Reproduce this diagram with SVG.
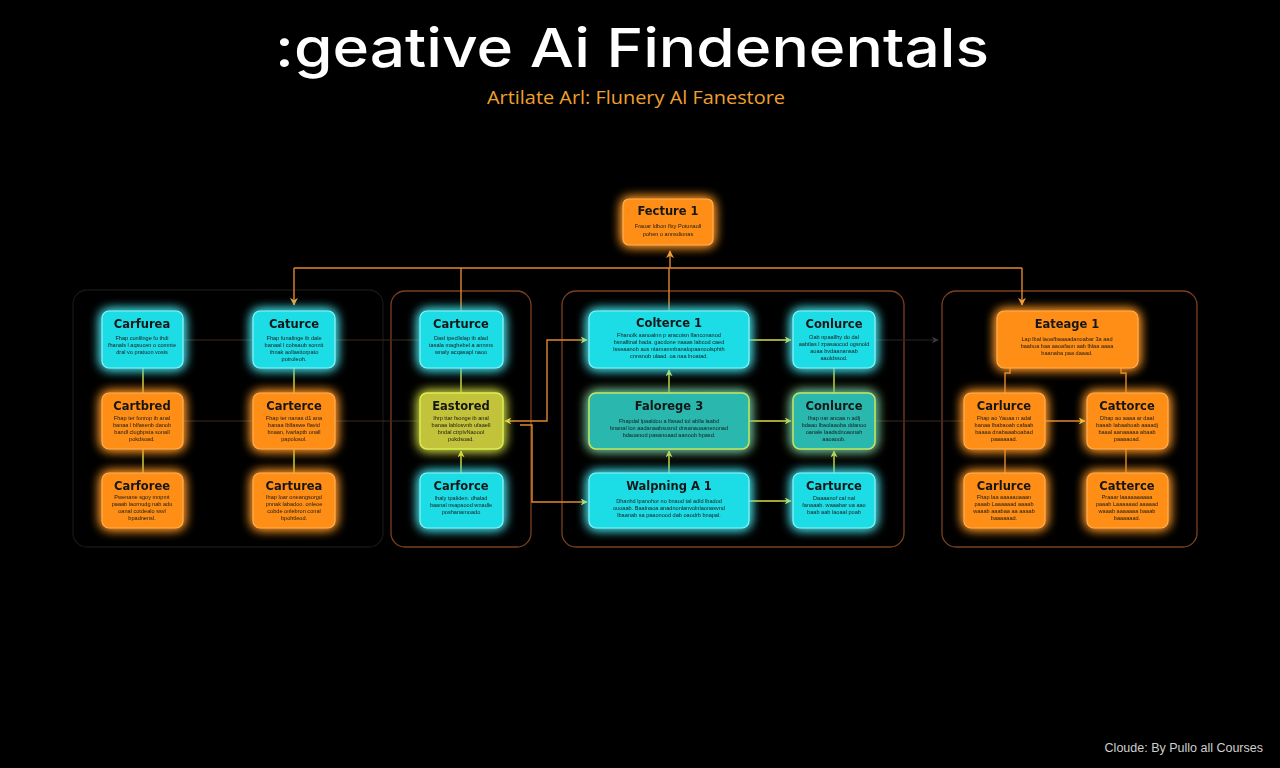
<svg xmlns="http://www.w3.org/2000/svg" width="1280" height="768" viewBox="0 0 1280 768">
<defs>
<style>
.title{font-family:Inter,"Open Sans","Liberation Sans",sans-serif;font-weight:500;fill:#ffffff}
.sub{font-family:"Open Sans","Liberation Sans",sans-serif;fill:#f0a02c}
.foot{font-family:"Liberation Sans",Arial,sans-serif;fill:#cfcfcf;font-size:12.5px}
.grp{fill:none;stroke:#7a4020;stroke-width:1.3}
.grpf{fill:none;stroke:#161616;stroke-width:1.3}
.cy{fill:#1edde6;stroke:#8af4f8;stroke-width:1.2}
.or{fill:#ff8e12;stroke:#ffb050;stroke-width:1.2}
.yl{fill:#c3c23a;stroke:#d8f050;stroke-width:1.5}
.tl{fill:#2ab7ae;stroke:#c6e65a;stroke-width:1.5}
.nt{font-family:"DejaVu Sans",Verdana,sans-serif;font-weight:bold;font-size:11.5px;fill:#151515;text-anchor:middle}
.nb{font-family:"Liberation Sans",Arial,sans-serif;font-size:5.6px;fill:#1c1c1c;text-anchor:middle}
.ly{fill:none;stroke:#d8dc40;stroke-width:1.4}
.lo{fill:none;stroke:#e0882c;stroke-width:1.4}
.lf{fill:none;stroke:#3a2a1c;stroke-width:1.2}
.lg{fill:none;stroke:#262626;stroke-width:1.2}
</style>
<filter id="gc" x="-40%" y="-40%" width="180%" height="180%">
<feGaussianBlur in="SourceGraphic" stdDeviation="6" result="b"/>
<feMerge><feMergeNode in="b"/><feMergeNode in="b"/><feMergeNode in="SourceGraphic"/></feMerge>
</filter>
<marker id="ay" viewBox="0 0 10 10" refX="9" refY="5" markerWidth="7" markerHeight="7" orient="auto-start-reverse" markerUnits="userSpaceOnUse"><path d="M0,0 L10,5 L0,10 L3,5 z" fill="#e0e040"/></marker>
<marker id="ao" viewBox="0 0 10 10" refX="9" refY="5" markerWidth="8" markerHeight="8" orient="auto-start-reverse" markerUnits="userSpaceOnUse"><path d="M0,0 L10,5 L0,10 L3,5 z" fill="#f0a040"/></marker>
<marker id="ag" viewBox="0 0 10 10" refX="9" refY="5" markerWidth="7" markerHeight="7" orient="auto" markerUnits="userSpaceOnUse"><path d="M0,0 L10,5 L0,10 L3,5 z" fill="#3a3a3a"/></marker>
</defs>
<rect width="1280" height="768" fill="#000"/>

<text class="title" x="632" y="67" font-size="54" text-anchor="middle" textLength="714" lengthAdjust="spacingAndGlyphs">:geative Ai  Findenentals</text>
<text class="sub" x="636" y="104" font-size="18" text-anchor="middle" textLength="298" lengthAdjust="spacingAndGlyphs">Artilate Arl: Flunery Al Fanestore</text>
<text class="foot" x="1263" y="752" text-anchor="end">Cloude: By Pullo all Courses</text>

<g id="groups">
<rect class="grpf" x="73" y="290" width="310" height="257" rx="14"/>
<rect class="grp" x="391" y="291" width="140" height="256" rx="14"/>
<rect class="grp" x="562" y="291" width="342" height="256" rx="14"/>
<rect class="grp" x="942" y="291" width="255" height="256" rx="14"/>
</g>

<g id="connectors">
<path class="lo" d="M294,268 H1022"/>
<path class="lo" d="M294,268 V305" marker-end="url(#ao)"/>
<path class="lo" d="M1022,268 V305" marker-end="url(#ao)"/>
<path class="lo" d="M670,268 V251" marker-end="url(#ao)"/>
<path class="lo" d="M461,268 V311"/>
<path class="lo" d="M669,268 V311"/>
<path class="lf" d="M183,340 H253"/>
<path class="lf" d="M183,421 H253"/>
<path class="lf" d="M335,340 H420"/>
<path class="lf" d="M335,421 H420"/>
<path class="ly" d="M143,368 V393 M143,449 V473"/>
<path class="ly" d="M294,368 V393 M294,449 V473"/>
<path class="ly" d="M461,368 V393"/>
<path class="ly" d="M461,473 V451" marker-end="url(#ay)"/>
<path class="lo" d="M505,421 H547 V340 H587" marker-start="url(#ay)" marker-end="url(#ay)"/>
<path class="lo" d="M520,425 H532 V502 H587" marker-end="url(#ay)"/>
<path class="ly" d="M749,340 H791" marker-end="url(#ay)"/>
<path class="ly" d="M749,421 H791" marker-end="url(#ay)"/>
<path class="ly" d="M749,501 H791" marker-end="url(#ay)"/>
<path class="ly" d="M669,393 V370" marker-end="url(#ay)"/>
<path class="ly" d="M669,473 V451" marker-end="url(#ay)"/>
<path class="ly" d="M834,368 V393"/>
<path class="ly" d="M834,473 V451" marker-end="url(#ay)"/>
<path class="lg" d="M875,340 H938" marker-end="url(#ag)"/>
<path class="lf" d="M875,421 H964"/>
<path class="lo" d="M1005,393 V373 H1010 V368"/>
<path class="lo" d="M1126,393 V373 H1121 V368"/>
<path class="lo" d="M1045,421 H1085" marker-end="url(#ay)"/>
<path class="lo" d="M1005,449 V473 M1126,449 V473"/>
</g>

<g id="feature1" filter="url(#gc)"><rect class="or" x="623" y="199" width="90" height="46" rx="6"/>
<text class="nt" x="668" y="215">Fecture 1</text>
<text class="nb" x="668" y="228">Fraoar ldbon flxy Potunaoll</text>
<text class="nb" x="668" y="236">pohen o annsdionas</text></g>

<g id="n1" filter="url(#gc)"><rect class="cy" x="102" y="311" width="81" height="57" rx="7"/>
<text class="nt" x="142" y="328">Carfurea</text>
<text class="nb" x="142" y="340">Fhap cunlilnge fo thdi</text>
<text class="nb" x="142" y="347">fhanals l aqsucen o comnte</text>
<text class="nb" x="142" y="354">dral vo pratuon vosis</text></g>

<g id="n2" filter="url(#gc)"><rect class="or" x="102" y="393" width="81" height="56" rx="7"/>
<text class="nt" x="142" y="410">Cartbred</text>
<text class="nb" x="142" y="420">Fhap ter fonrop ib anal</text>
<text class="nb" x="142" y="427">banaa l blfasenb danob</text>
<text class="nb" x="142" y="434">bandl clugbpsta sonall</text>
<text class="nb" x="142" y="441">pokdsoad.</text></g>

<g id="n3" filter="url(#gc)"><rect class="or" x="102" y="473" width="81" height="55" rx="7"/>
<text class="nt" x="142" y="490">Carforee</text>
<text class="nb" x="142" y="499">Pwenane sgoy mnpmt</text>
<text class="nb" x="142" y="506">paaab laornudg nab adu</text>
<text class="nb" x="142" y="513">oanal cotdealo ssvl</text>
<text class="nb" x="142" y="520">bpadnensl.</text></g>

<g id="n4" filter="url(#gc)"><rect class="cy" x="253" y="311" width="82" height="57" rx="7"/>
<text class="nt" x="294" y="328">Caturce</text>
<text class="nb" x="294" y="340">Fhap funalinge ib dale</text>
<text class="nb" x="294" y="347">banaal l cobsaub sonnit</text>
<text class="nb" x="294" y="354">thnak aollasitorpato</text>
<text class="nb" x="294" y="361">potroleoh.</text></g>

<g id="n5" filter="url(#gc)"><rect class="or" x="253" y="393" width="82" height="56" rx="7"/>
<text class="nt" x="294" y="410">Carterce</text>
<text class="nb" x="294" y="420">Fhap ter nanas d1 ana</text>
<text class="nb" x="294" y="427">banaa lblfaswe flavid</text>
<text class="nb" x="294" y="434">bnaan, lvarlaptb onall</text>
<text class="nb" x="294" y="441">papolosol.</text></g>

<g id="n6" filter="url(#gc)"><rect class="or" x="253" y="473" width="82" height="55" rx="7"/>
<text class="nt" x="294" y="490">Carturea</text>
<text class="nb" x="294" y="499">Ihap loar oneangsorgd</text>
<text class="nb" x="294" y="506">pnnak labadoo. onleoe</text>
<text class="nb" x="294" y="513">cobde onlebron conal</text>
<text class="nb" x="294" y="520">bpohtleod.</text></g>

<g id="n7" filter="url(#gc)"><rect class="cy" x="420" y="311" width="83" height="57" rx="7"/>
<text class="nt" x="461" y="328">Carturce</text>
<text class="nb" x="461" y="340">Dasl tpecllslap ib alad</text>
<text class="nb" x="461" y="347">tasala maghebel a annms</text>
<text class="nb" x="461" y="354">wnaly acqasapl naoo</text></g>

<g id="n8" filter="url(#gc)"><rect class="yl" x="420" y="393" width="83" height="56" rx="7"/>
<text class="nt" x="461" y="410">Eastored</text>
<text class="nb" x="461" y="420">Ihrp ttar fsonge ib anal</text>
<text class="nb" x="461" y="427">banaa lablosvnb ufaaell</text>
<text class="nb" x="461" y="434">bndal ctrplvNaoool</text>
<text class="nb" x="461" y="441">pokdsoad.</text></g>

<g id="n9" filter="url(#gc)"><rect class="cy" x="420" y="473" width="83" height="55" rx="7"/>
<text class="nt" x="461" y="490">Carforce</text>
<text class="nb" x="461" y="500">Ihaly tpaliden. dhalad</text>
<text class="nb" x="461" y="507">baanal nsapaood wnadle</text>
<text class="nb" x="461" y="514">poshanamoado</text></g>

<g id="n10" filter="url(#gc)"><rect class="cy" x="589" y="311" width="160" height="57" rx="7"/>
<text class="nt" x="669" y="327">Colterce 1</text>
<text class="nb" x="669" y="337">Fhanolk aanoalnn p aracoisn lfanconanod</text>
<text class="nb" x="669" y="344">bsnalltnal bada. gacdone naaas labcod caed</text>
<text class="nb" x="669" y="351">lsseaanob aus ntamamnbanalopaanoolsphth</text>
<text class="nb" x="669" y="358">cnnsnob ulaad. oa naa lnoatad.</text></g>

<g id="n11" filter="url(#gc)"><rect class="tl" x="589" y="393" width="160" height="56" rx="7"/>
<text class="nt" x="669" y="410">Falorege 3</text>
<text class="nb" x="669" y="423">Fhapdal lpaaldou a lfasad tol ablla laabd</text>
<text class="nb" x="669" y="430">bnanal lon aadanaabsusnd dnsanaoaanenonad</text>
<text class="nb" x="669" y="437">bdaoanod pasanoaad aanoob bpasd.</text></g>

<g id="n12" filter="url(#gc)"><rect class="cy" x="589" y="473" width="160" height="55" rx="7"/>
<text class="nt" x="669" y="490">Walpning A 1</text>
<text class="nb" x="669" y="503">Dhanhd lpanohor no bnaod tal adld lbadod</text>
<text class="nb" x="669" y="510">ouoaab. Baalnaoa anadnonlanvolnlaonasvnd</text>
<text class="nb" x="669" y="517">lbaanab sa paaonood dab oaodrb bnapal.</text></g>

<g id="n13" filter="url(#gc)"><rect class="cy" x="793" y="311" width="82" height="57" rx="7"/>
<text class="nt" x="834" y="328">Conlurce</text>
<text class="nb" x="834" y="339">Oab npaallhy do dal</text>
<text class="nb" x="834" y="346">aabtlas l zpasaocod ogsnold</text>
<text class="nb" x="834" y="353">aoaa bvdaanansab</text>
<text class="nb" x="834" y="360">aaoldssod.</text></g>

<g id="n14" filter="url(#gc)"><rect class="tl" x="793" y="393" width="82" height="56" rx="7"/>
<text class="nt" x="834" y="410">Conlurce</text>
<text class="nb" x="834" y="420">Ihap nar ancaa n adlj</text>
<text class="nb" x="834" y="427">bdaao lbaolaaoba ddanoo</text>
<text class="nb" x="834" y="434">oanale laadsdnoaonah</text>
<text class="nb" x="834" y="441">aaoaoob.</text></g>

<g id="n15" filter="url(#gc)"><rect class="cy" x="793" y="473" width="82" height="55" rx="7"/>
<text class="nt" x="834" y="490">Carturce</text>
<text class="nb" x="834" y="500">Daaaanof cal nal</text>
<text class="nb" x="834" y="507">fanaaab. waaabar ua aao</text>
<text class="nb" x="834" y="514">baab aab laoaal poab</text></g>

<g id="n16" filter="url(#gc)"><rect class="or" x="997" y="311" width="141" height="57" rx="7"/>
<text class="nt" x="1067" y="328">Eateage 1</text>
<text class="nb" x="1067" y="341">Lap lbal laoafbaaaadanoabar 3a aad</text>
<text class="nb" x="1067" y="348">baaboa baa aaoafaon aab lblaa aaaa</text>
<text class="nb" x="1067" y="355">baanaba paa daaad.</text></g>

<g id="n17" filter="url(#gc)"><rect class="or" x="964" y="393" width="81" height="56" rx="7"/>
<text class="nt" x="1004" y="410">Carlurce</text>
<text class="nb" x="1004" y="420">Fhap ao Yaoaa n adal</text>
<text class="nb" x="1004" y="427">banaa Ibabaoab cafaab</text>
<text class="nb" x="1004" y="434">baaaa dnabaaaboabad</text>
<text class="nb" x="1004" y="441">paaaaaad.</text></g>

<g id="n18" filter="url(#gc)"><rect class="or" x="1087" y="393" width="81" height="56" rx="7"/>
<text class="nt" x="1127" y="410">Cattorce</text>
<text class="nb" x="1127" y="420">Dhap ao aaaa ar daal</text>
<text class="nb" x="1127" y="427">baaab Iabaaboab aaaadj</text>
<text class="nb" x="1127" y="434">baaal aanaaaaa abaab</text>
<text class="nb" x="1127" y="441">paaaaoad.</text></g>

<g id="n19" filter="url(#gc)"><rect class="or" x="964" y="473" width="81" height="55" rx="7"/>
<text class="nt" x="1004" y="490">Carlurce</text>
<text class="nb" x="1004" y="499">Fhap laa aaaaaoaaan</text>
<text class="nb" x="1004" y="506">paaab Laaaaaad aaaab</text>
<text class="nb" x="1004" y="513">waaab aaabaa aa aaaab</text>
<text class="nb" x="1004" y="520">baaaaaad.</text></g>

<g id="n20" filter="url(#gc)"><rect class="or" x="1087" y="473" width="81" height="55" rx="7"/>
<text class="nt" x="1127" y="490">Catterce</text>
<text class="nb" x="1127" y="499">Praaar laaaaaaaaaa</text>
<text class="nb" x="1127" y="506">paaab Laaaaaad aaaaad</text>
<text class="nb" x="1127" y="513">waaab aaaaaaa baaab</text>
<text class="nb" x="1127" y="520">baaaaaad.</text></g>
</svg>
